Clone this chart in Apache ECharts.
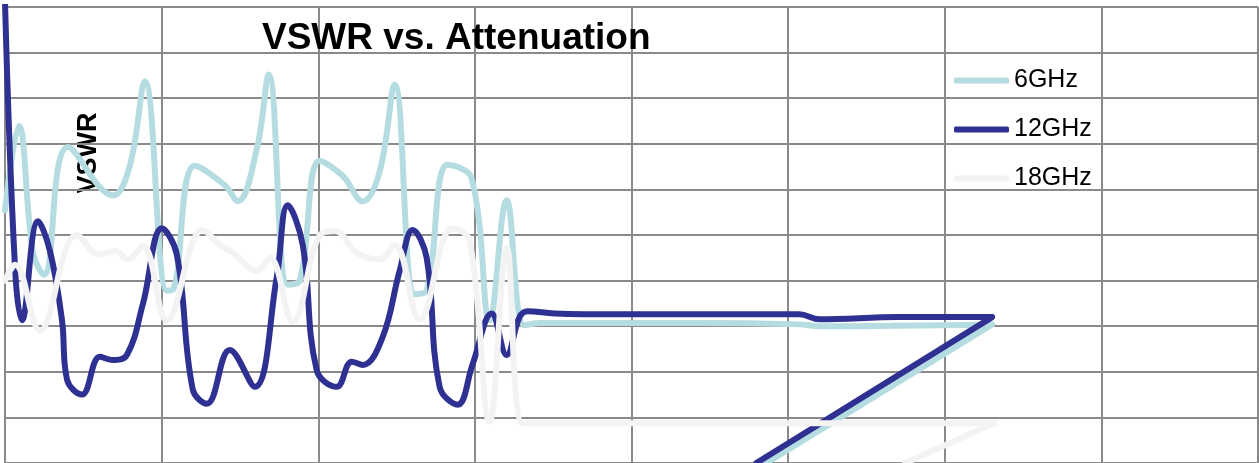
<!DOCTYPE html>
<html>
<head>
<meta charset="utf-8">
<script src="https://cdn.jsdelivr.net/npm/echarts@6/dist/echarts.min.js"></script>
<style>
html,body{margin:0;padding:0;background:#fff;}
#chart{width:1259px;height:463px;}
</style>
</head>
<body>
<div id="chart"></div>
<script>
// Attenuation (dB) / VSWR pairs
const seriesNames = ['6GHz', '12GHz', '18GHz'];
const atten6 = [0, 0.89, 1.79, 2.49, 4.02, 6.89, 7.97, 8.93, 10.33, 10.72, 12.12, 14.04, 14.86, 16.08, 16.84, 18.05, 18.82, 20.10, 21.56, 22.84, 23.92, 24.88, 26.16, 26.92, 28.26, 29.79, 30.94, 32.03, 33.17, 34.13, 44.34, 50.72, 51.99, 63.03, 48.61];
const vswr6 = [1.554, 1.739, 1.461, 1.413, 1.693, 1.587, 1.652, 1.837, 1.378, 1.380, 1.652, 1.609, 1.574, 1.689, 1.852, 1.391, 1.400, 1.663, 1.630, 1.574, 1.639, 1.830, 1.370, 1.378, 1.654, 1.624, 1.313, 1.576, 1.302, 1.307, 1.307, 1.304, 1.300, 1.304, 1.000];
const atten12 = [0, 0.64, 1.08, 2.11, 2.87, 3.64, 3.96, 4.91, 6.06, 6.83, 7.78, 8.80, 10.02, 10.97, 11.99, 12.89, 14.35, 15.95, 17.35, 18.05, 19.01, 19.90, 21.18, 22.14, 22.84, 24.11, 25.20, 26.03, 26.92, 27.75, 28.90, 29.86, 31.07, 32.03, 32.85, 33.37, 35.09, 39.23, 50.02, 50.72, 51.99, 57.10, 63.03, 47.97];
const vswr12 = [2.011, 1.428, 1.313, 1.530, 1.465, 1.313, 1.183, 1.150, 1.233, 1.226, 1.237, 1.348, 1.515, 1.457, 1.161, 1.130, 1.248, 1.167, 1.407, 1.565, 1.478, 1.204, 1.167, 1.222, 1.215, 1.276, 1.422, 1.511, 1.450, 1.167, 1.128, 1.217, 1.328, 1.237, 1.320, 1.333, 1.328, 1.326, 1.326, 1.326, 1.315, 1.320, 1.320, 1.000];
const atten18 = [0, 0.64, 2.23, 4.59, 6.06, 7.02, 7.85, 8.80, 10.33, 12.63, 13.72, 14.55, 16.08, 16.91, 18.37, 20.10, 21.05, 22.46, 23.92, 24.88, 26.48, 28.58, 29.67, 30.94, 32.03, 33.05, 34.13, 44.34, 63.16, 57.48];
const vswr18 = [1.400, 1.435, 1.291, 1.500, 1.457, 1.465, 1.446, 1.476, 1.313, 1.511, 1.478, 1.461, 1.422, 1.450, 1.309, 1.500, 1.509, 1.461, 1.446, 1.478, 1.315, 1.515, 1.487, 1.091, 1.472, 1.087, 1.087, 1.087, 1.087, 1.000];
const titleText = 'VSWR vs. Attenuation';
const yName = 'VSWR';

function pairs(xs, ys) { return xs.map((x, i) => [x, ys[i]]); }
const colors = ['#b5dde1', '#2e3192', '#f3f3f3'];
const dataSets = [pairs(atten6, vswr6), pairs(atten12, vswr12), pairs(atten18, vswr18)];

const chart = echarts.init(document.getElementById('chart'), null, {renderer: 'canvas'});
const gridLine = {show: true, lineStyle: {color: '#8a8a8a', width: 2}};
chart.setOption({
  animation: false,
  backgroundColor: '#ffffff',
  title: {
    text: titleText,
    left: 257, top: 15,
    textStyle: {fontFamily: 'Liberation Sans, Arial, sans-serif', fontSize: 37, fontWeight: 'bold', color: '#000'}
  },
  legend: {
    orient: 'vertical',
    left: 949, top: 63,
    itemWidth: 55, itemHeight: 6, itemGap: 24,
    icon: 'roundRect',
    textStyle: {fontFamily: 'Liberation Sans, Arial, sans-serif', fontSize: 25, color: '#000', lineHeight: 25},
    data: seriesNames
  },
  graphic: [{
    type: 'text', x: 89, y: 153, rotation: Math.PI / 2,
    style: {text: yName, font: 'bold 27px "Liberation Sans", Arial, sans-serif', fill: '#000', align: 'center', verticalAlign: 'middle'}
  }],
  grid: {left: 5, right: 1, top: 7, height: 460, containLabel: false},
  xAxis: {type: 'value', min: 0, max: 80, interval: 10, axisLine: {show: false}, axisTick: {show: false}, axisLabel: {show: false}, splitLine: gridLine},
  yAxis: {type: 'value', min: 1, max: 2, interval: 0.1, axisLine: {show: false}, axisTick: {show: false}, axisLabel: {show: false}, splitLine: gridLine},
  series: seriesNames.map((n, i) => ({
    name: n, type: 'line', data: dataSets[i], smooth: 0.4, symbol: 'none', showSymbol: false,
    lineStyle: {color: colors[i], width: 6, cap: 'round', join: 'round'}, itemStyle: {color: colors[i]}
  }))
});
</script>
</body>
</html>
